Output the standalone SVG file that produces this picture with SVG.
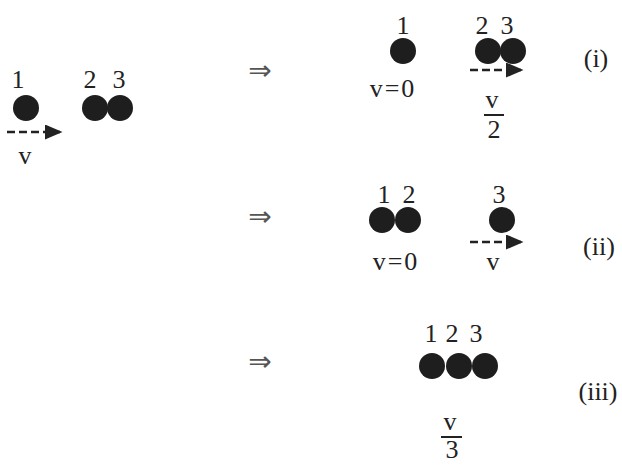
<svg xmlns="http://www.w3.org/2000/svg" width="622" height="467" viewBox="0 0 622 467">
<style>
.t{font-family:"Liberation Serif","Times New Roman",serif;font-size:26px;fill:#222;text-anchor:middle}
.w{letter-spacing:2px}
.b{fill:#1e1e1e}
.imp{font-family:"DejaVu Sans",sans-serif;font-size:28px;fill:#555;text-anchor:middle}
.arr{stroke:#222;stroke-width:2.5;stroke-dasharray:8 4;fill:none;marker-end:url(#ah)}
.fr{stroke:#222;stroke-width:2}
</style>
<defs>
<marker id="ah" markerWidth="7" markerHeight="6" refX="6" refY="3" orient="auto" markerUnits="strokeWidth">
<path d="M0,0 L7,3 L0,6 z" fill="#222"/>
</marker>
</defs>
<rect width="622" height="467" fill="#fff"/>
<g id="initial">
<text class="t" x="18" y="88">1</text>
<circle class="b" cx="26" cy="108" r="13" fill="#2a2a2a"/>
<text class="t" x="90" y="88">2</text>
<text class="t" x="119" y="88">3</text>
<circle class="b" cx="95" cy="108" r="13"/>
<circle class="b" cx="120" cy="108" r="13"/>
<text class="t" x="25" y="164">v</text>
</g>
<g id="implies">
<text class="imp" x="260" y="80">⇒</text>
<text class="imp" x="260" y="226">⇒</text>
<text class="imp" x="260" y="371">⇒</text>
</g>
<g id="case-i">
<text class="t" x="403" y="34">1</text>
<circle class="b" cx="403" cy="51" r="13"/>
<text class="t w" x="393" y="97">v=0</text>
<text class="t" x="482" y="34">2</text>
<text class="t" x="507" y="34">3</text>
<circle class="b" cx="488" cy="51" r="13"/>
<circle class="b" cx="513" cy="51" r="13"/>
<text class="t" x="492" y="108">v</text>
<line class="fr" x1="484" y1="115" x2="504" y2="115"/>
<text class="t" x="494" y="138">2</text>
<text class="t" x="596" y="67">(i)</text>
</g>
<g id="case-ii">
<text class="t" x="384" y="203">1</text>
<text class="t" x="409" y="203">2</text>
<circle class="b" cx="382" cy="220" r="13"/>
<circle class="b" cx="408" cy="220" r="13"/>
<text class="t w" x="396" y="270">v=0</text>
<text class="t" x="493" y="270">v</text>
<text class="t" x="499" y="203">3</text>
<circle class="b" cx="502" cy="220" r="13"/>
<text class="t" x="599" y="255">(ii)</text>
</g>
<g id="case-iii">
<text class="t" x="431" y="342">1</text>
<text class="t" x="452" y="342">2</text>
<text class="t" x="476" y="342">3</text>
<circle class="b" cx="432" cy="366" r="13"/>
<circle class="b" cx="459" cy="366" r="13"/>
<circle class="b" cx="485" cy="366" r="13"/>
<text class="t" x="450" y="430">v</text>
<line class="fr" x1="441" y1="437" x2="462" y2="437"/>
<text class="t" x="452" y="458">3</text>
<text class="t" x="598" y="400">(iii)</text>
</g>
<g id="connectors">
<line class="arr" x1="7" y1="132" x2="60" y2="132"/>
<line class="arr" x1="470" y1="70" x2="521" y2="70"/>
<line class="arr" x1="470" y1="242" x2="521" y2="242"/>
</g>
</svg>
